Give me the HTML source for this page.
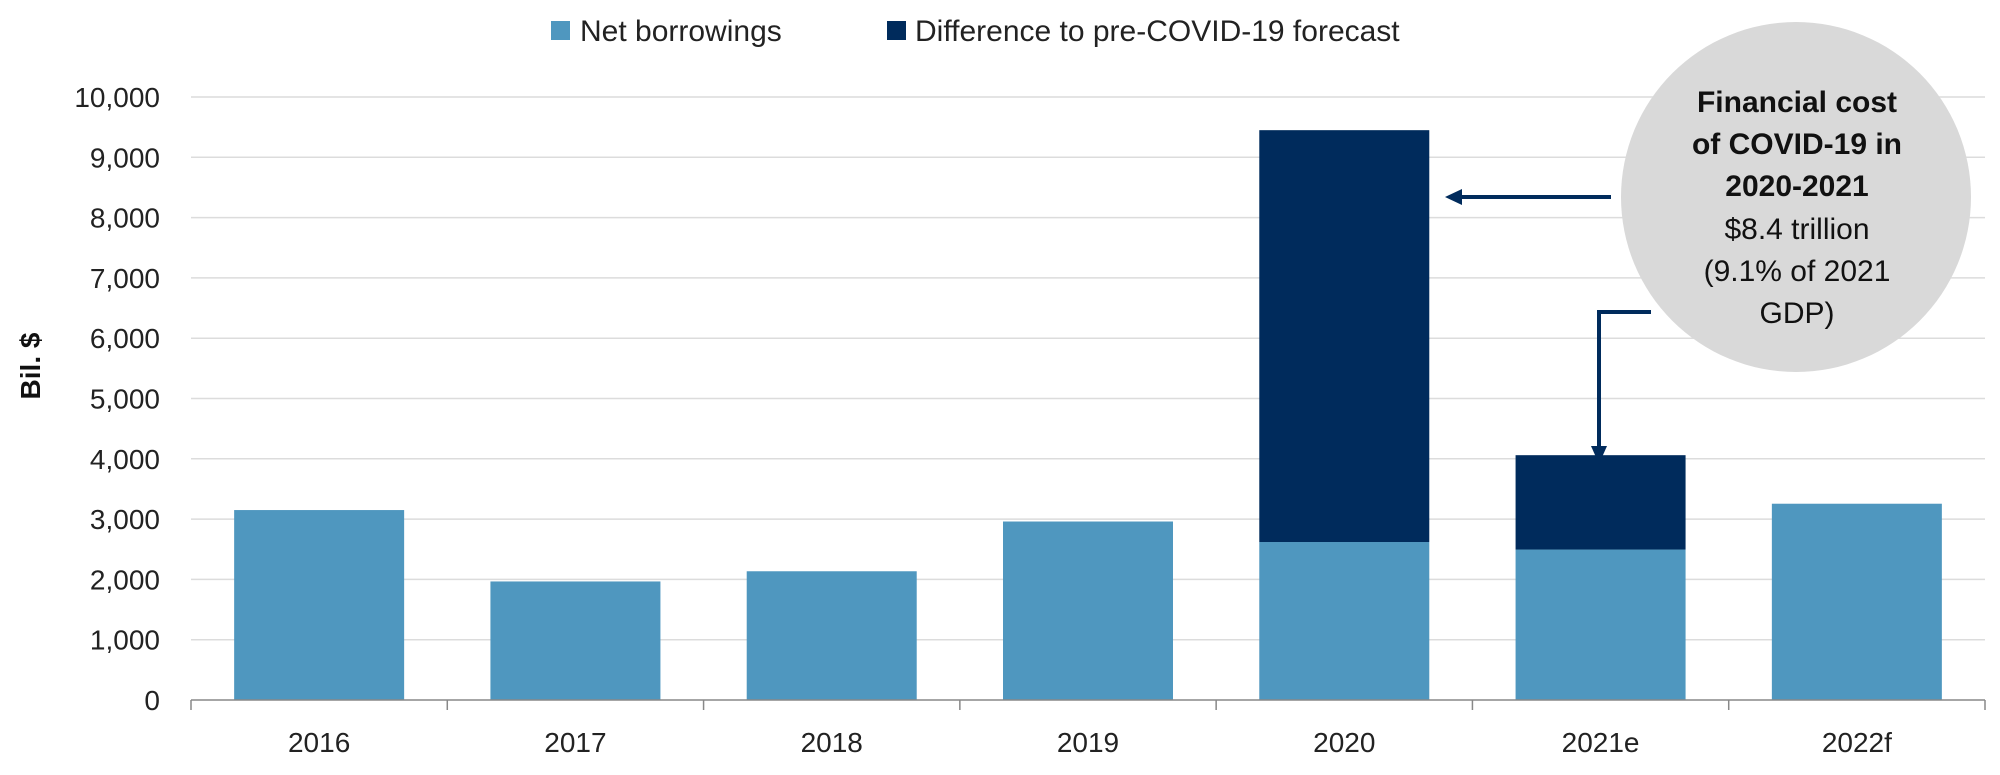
<!DOCTYPE html>
<html><head><meta charset="utf-8"><style>
body{margin:0;background:#fff;}
svg text{font-family:"Liberation Sans",sans-serif;}
</style></head><body>
<svg id="chart" width="2000" height="770" viewBox="0 0 2000 770" xmlns="http://www.w3.org/2000/svg">
<g id="legend">
<rect x="551" y="21" width="19" height="19" fill="#4f97bf"/>
<text x="580" y="41" font-size="30" fill="#222">Net borrowings</text>
<rect x="887" y="21" width="19" height="19" fill="#002b5c"/>
<text x="915" y="41" font-size="30" fill="#222">Difference to pre-COVID-19 forecast</text>
</g>
<text transform="translate(40,366) rotate(-90)" text-anchor="middle" font-size="28" font-weight="bold" fill="#111">Bil. $</text>
<g id="grid"></g><g id="bars"></g><g id="axis"></g>
<g>
<circle cx="1796" cy="197" r="175" fill="#d9d9d9"/>
<g font-size="30" text-anchor="middle" fill="#111">
<text x="1797" y="112" font-weight="bold">Financial cost</text>
<text x="1797" y="154" font-weight="bold">of COVID-19 in</text>
<text x="1797" y="196" font-weight="bold">2020-2021</text>
<text x="1797" y="239">$8.4 trillion</text>
<text x="1797" y="281">(9.1% of 2021</text>
<text x="1797" y="323">GDP)</text>
</g>
<path d="M1611 197 L1460 197" stroke="#002b5c" stroke-width="4" fill="none"/>
<path d="M1445 197 L1462 189 L1462 205 Z" fill="#002b5c"/>
<path d="M1651 312 L1599 312 L1599 448" stroke="#002b5c" stroke-width="4" fill="none"/>
<path d="M1599 464 L1591 446 L1607 446 Z" fill="#002b5c"/>
</g>
</svg>
<script>
const categories=["2016","2017","2018","2019","2020","2021e","2022f"];
const netBorrowings=[3150,1966,2135,2960,2620,2495,3255];
const difference=[0,0,0,0,6830,1565,0];
const yTicks=[0,1000,2000,3000,4000,5000,6000,7000,8000,9000,10000];
const yTickLabels=["0","1,000","2,000","3,000","4,000","5,000","6,000","7,000","8,000","9,000","10,000"];
const NS="http://www.w3.org/2000/svg";
const L=191,R=1985,Y0=700,Y1=97;
const cw=(R-L)/categories.length;
function y(v){return Y0-(v/10000)*(Y0-Y1);}
function xc(i){return L+cw*(i+0.5);}
function mk(t,a,p){const e=document.createElementNS(NS,t);for(const k in a)e.setAttribute(k,a[k]);p.appendChild(e);return e;}
const grid=document.getElementById('grid'),bars=document.getElementById('bars'),axis=document.getElementById('axis');
yTicks.forEach((v,i)=>{
 if(v>0){const g=mk('line',{x1:L,x2:R,y1:y(v),y2:y(v),stroke:'#dcdcdc','stroke-width':1.5},grid);
 
 }
 const t=mk('text',{x:160,y:y(v)+10,'text-anchor':'end','font-size':28,fill:'#222'},axis);
 t.textContent=yTickLabels[i];
 
 
});
const bw=170;
categories.forEach((c,i)=>{
 const b=mk('rect',{x:xc(i)-bw/2,y:y(netBorrowings[i]),width:bw,height:Y0-y(netBorrowings[i]),fill:'#4f97bf'},bars);
 
 
 if(difference[i]>0){
  const top=netBorrowings[i]+difference[i];
  const d=mk('rect',{x:xc(i)-bw/2,y:y(top),width:bw,height:y(netBorrowings[i])-y(top),fill:'#002b5c'},bars);
  
  
 }
 const t=mk('text',{x:xc(i),y:752,'text-anchor':'middle','font-size':28,fill:'#222'},axis);
 t.textContent=c;
 
 
});
for(let i=0;i<=categories.length;i++){
 const tk=mk('line',{x1:L+cw*i,x2:L+cw*i,y1:Y0,y2:Y0+10,stroke:'#888','stroke-width':1.5},axis);
 
 
}
const ax=mk('line',{x1:L,x2:R,y1:Y0,y2:Y0,stroke:'#888','stroke-width':1.5},axis);


</script>
</body></html>
